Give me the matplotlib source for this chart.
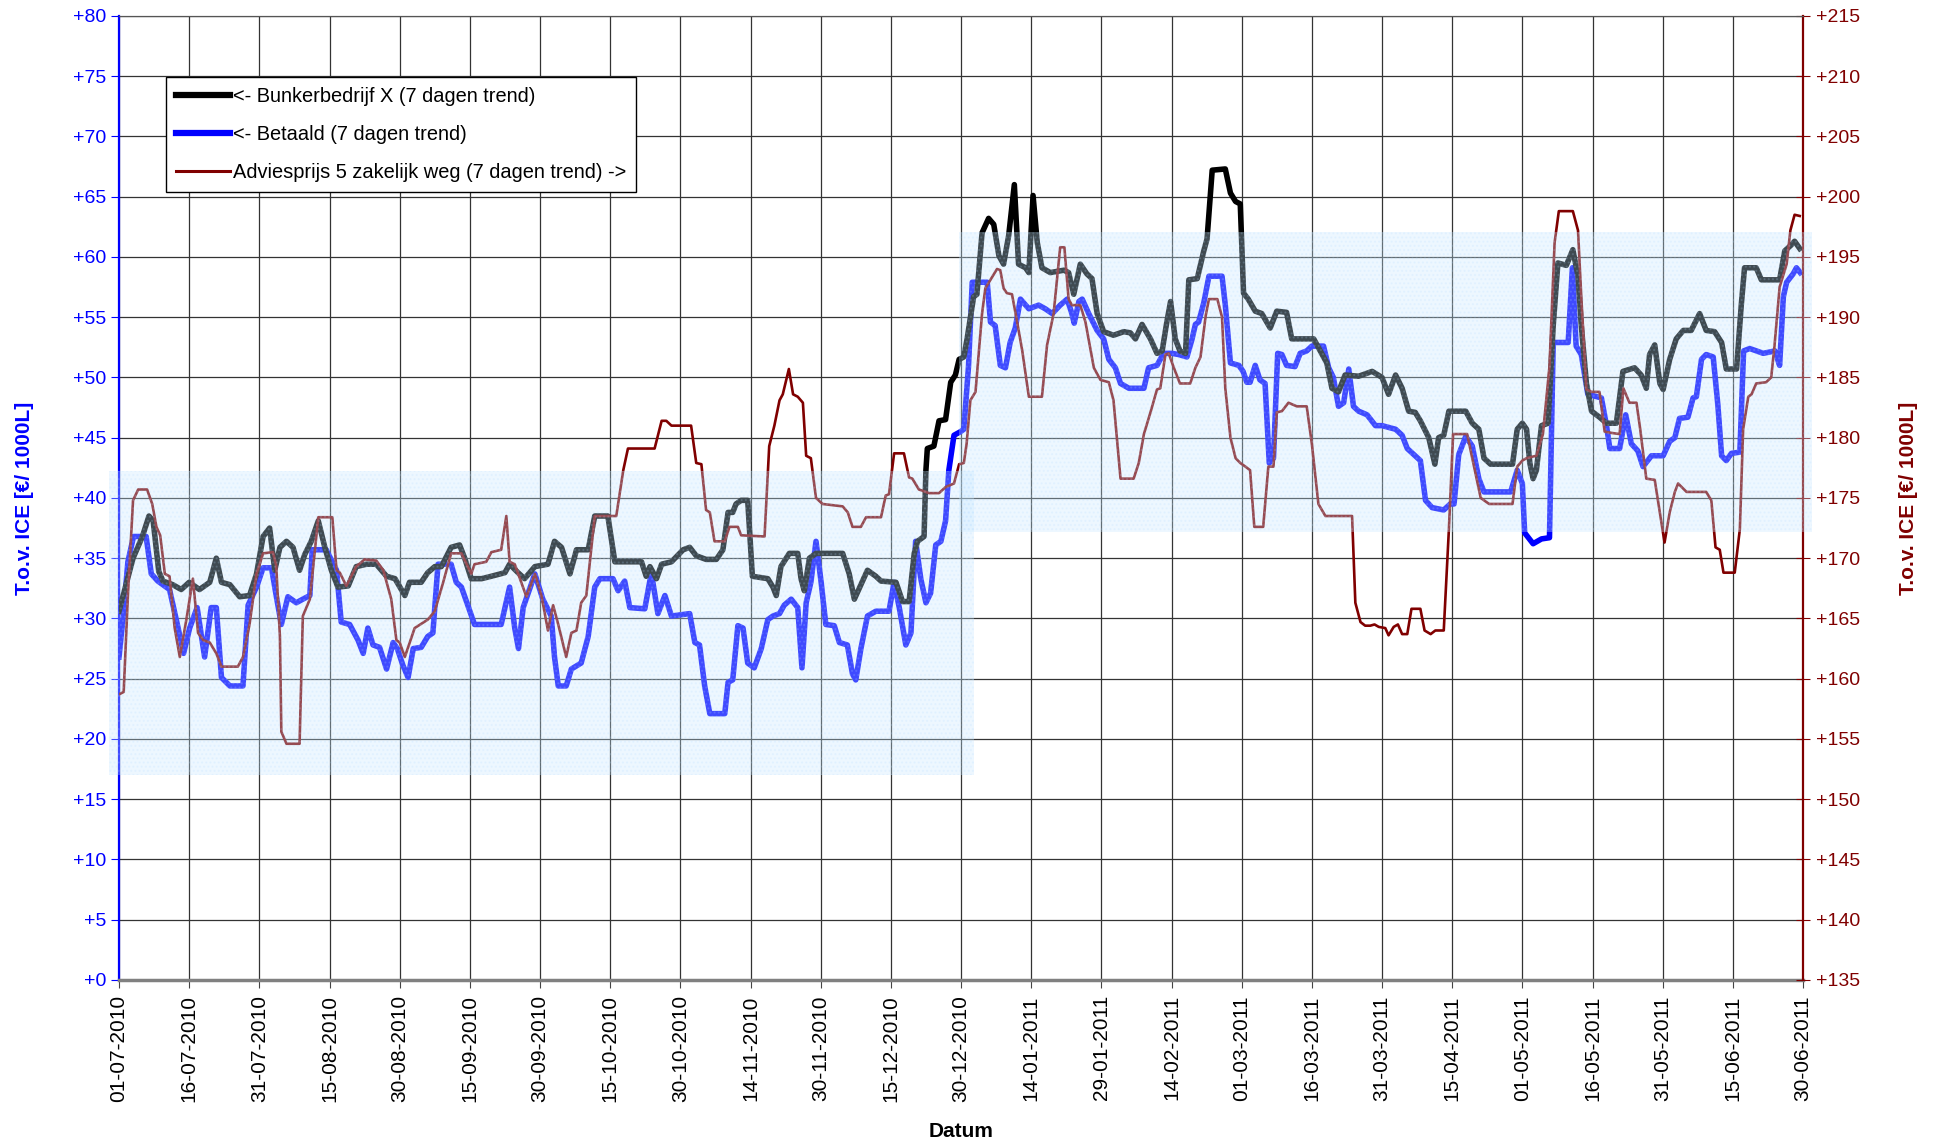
import numpy as np
import matplotlib
matplotlib.use('Agg')
import matplotlib.pyplot as plt
from matplotlib.patches import Rectangle
from matplotlib.lines import Line2D

plt.rcParams['font.family'] = ['Liberation Sans', 'DejaVu Sans']

###################################Data#########################################

# Category axis: one tick label every 15 rows
date_labels = ['01-07-2010', '16-07-2010', '31-07-2010', '15-08-2010', '30-08-2010',
               '15-09-2010', '30-09-2010', '15-10-2010', '30-10-2010', '14-11-2010',
               '30-11-2010', '15-12-2010', '30-12-2010', '14-01-2011', '29-01-2011',
               '14-02-2011', '01-03-2011', '16-03-2011', '31-03-2011', '15-04-2011',
               '01-05-2011', '16-05-2011', '31-05-2011', '15-06-2011', '30-06-2011']

# Bunkerbedrijf X (left axis) - row number / value
blk_x = [0, 3, 5, 6.4, 7.3, 8.5, 9.4, 11.5, 13.3, 15, 17.2, 19.4, 20.8, 21.9, 23.7, 25.8, 27.9,
         29.4, 30.8, 32.2, 33.3, 34.4, 35.8, 37.2, 38.6, 39.7, 41.1, 42.6, 44, 45.4, 46.8, 49,
         50.7, 52.9, 55, 57.2, 59, 61.1, 62.1, 64.6, 66, 67.5, 68.9, 71, 72.8, 73.9, 75.3, 77.5,
         79.6, 82.5, 83.5, 85.3, 86.7, 88.9, 91.7, 93.1, 94.6, 96.4, 97.8, 100.3, 101.7, 104.5,
         106, 111.7, 112.7, 113.5, 114.9, 116, 118.1, 120.6, 122, 123.4, 125.5, 127.7, 129.1,
         130.2, 131.2, 131.9, 133, 134.4, 135.4, 138.7, 139.8, 140.5, 141.5, 143.3, 145.1, 145.8,
         146.5, 147.6, 149, 154.7, 156.1, 157.2, 158.6, 160, 161.8, 162.9, 166.1, 167.5, 168.9,
         170, 170.7, 172.1, 172.5, 172.8, 174.2, 175.3, 176.7, 177.8, 178.8, 179.6, 180.6, 181.3,
         182.7, 183.4, 184.5, 185.9, 187, 188.1, 189.1, 190.2, 191.4, 192.3, 193.8, 194.5, 195.4,
         196.3, 197.3, 199.1, 202, 203, 204.1, 205.5, 206.9, 208, 209.1, 210.5, 212.6, 214.8,
         216.2, 217.3, 218.7, 220.5, 221.9, 223, 224, 224.8, 225.8, 226.8, 228, 228.7, 230.5,
         231.9, 232.6, 233.7, 236.5, 237.6, 238.7, 239.7, 240.4, 241.4, 242.9, 244.3, 246.1,
         247.5, 249.6, 250.7, 255.4, 256.8, 258.2, 259.3, 260.7, 262.1, 265, 267.9, 270, 271.4,
         272.9, 274.3, 275.7, 277.1, 278.2, 280, 281.3, 282.1, 283.2, 284.3, 287.9, 289.3, 290.7,
         291.8, 293.2, 297.9, 298.9, 300, 300.9, 301.6, 302.3, 303, 304.1, 305.5, 306.6, 307.6,
         309.4, 310.8, 311.9, 312.6, 313.7, 314.8, 316.5, 318, 320.1, 321.5, 324, 325.4, 326.5,
         327.2, 328.3, 329.4, 330.1, 331.5, 332.9, 334.4, 336.1, 337.9, 339.3, 341.1, 342.6,
         343.6, 345.8, 346.8, 347.5, 350, 351.1, 355, 356.1, 357.5, 358.2, 359.3]
blk_y = [30.6, 35, 36.8, 38.5, 38.1, 33.9, 33.1, 32.8, 32.4, 33, 32.4, 33, 35, 33, 32.8, 31.8, 31.9,
         33.7, 36.8, 37.5, 34.0, 35.9, 36.4, 35.9, 34.0, 35.3, 36.4, 38.1, 35.9, 34, 32.6, 32.7,
         34.3, 34.5, 34.5, 33.5, 33.3, 31.9, 33, 33, 33.8, 34.3, 34.3, 35.9, 36.1, 35.0, 33.3, 33.3,
         33.5, 33.8, 34.5, 33.8, 33.3, 34.3, 34.5, 36.4, 35.9, 33.7, 35.7, 35.7, 38.5, 38.5,
         34.7, 34.7, 33.5, 34.3, 33.3, 34.5, 34.7, 35.7, 35.9, 35.2, 34.9, 34.9, 35.7,
         38.8, 38.8, 39.5, 39.8, 39.8, 33.5, 33.3, 32.6, 31.9, 34.3, 35.4, 35.4, 33.3,
         32.3, 35.0, 35.4, 35.4, 33.7, 31.6, 32.8, 34.0, 33.5, 33.1, 33.0, 31.4, 31.4,
         35.4, 36.4, 36.8, 42.3, 44.1, 44.3, 46.4, 46.5, 49.6, 50.2, 51.5, 51.7, 53.2,
         56.7, 56.9, 62.0, 63.2, 62.7, 60.1, 59.4, 61.8, 66.0, 59.4, 59.1, 58.7, 65.1,
         61.2, 59.1, 58.7, 58.9, 58.7, 56.9, 59.4, 58.6, 58.2, 55.3, 53.8, 53.5, 53.8,
         53.7, 53.2, 54.4, 53.2, 52.0, 52.2, 54.6, 56.3, 53.2, 52.2, 52.0, 58.1, 58.2,
         60.5, 61.5, 67.2, 67.3, 65.3, 64.6, 64.4, 57.0, 56.5, 55.5, 55.3, 54.1,
         55.5, 55.4, 53.2, 53.2, 52.2, 51.2, 49.1, 48.8, 50.2, 50.1, 50.5, 50.0, 48.6,
         50.2, 49.1, 47.2, 47.1, 46.4, 45.0, 42.8, 45.0, 45.2, 47.2, 47.2, 46.2, 45.7,
         43.3, 42.8, 42.8, 45.7, 46.2, 45.7, 42.9, 41.6, 42.3, 46.0, 46.2, 54.3, 59.5,
         59.3, 60.6, 58.4, 54.3, 49.5, 47.2, 46.7, 46.2, 46.2, 50.5, 50.8, 50.2, 49.1,
         51.9, 52.7, 49.5, 49.0, 51.5, 53.2, 53.9, 53.9, 55.3, 53.9, 53.8, 52.9,
         50.7, 50.7, 56.0, 59.1, 59.1, 58.1, 58.1, 60.5, 61.0, 61.3, 60.7]

# Betaald (left axis)
blu_x = [0, 0.9, 1.9, 3.1, 5.8, 6.9, 8.3, 10.8, 12.3, 13.8, 15.1, 16.7, 18.3, 19.7, 20.8, 21.9,
         23.7, 26.5, 27.6, 29.4, 30.8, 32.6, 33.6, 34.7, 36.1, 37.9, 39.3, 40.8, 41.3, 44.3, 46.5,
         47.5, 49.3, 51.1, 52.2, 53.2, 54.3, 55.7, 57.2, 58.6, 59.5, 60.7, 61.8, 62.9, 64.6, 66,
         67.1, 68.2, 71, 72.1, 73.2, 76, 81.7, 83.5, 84.6, 85.4, 86.4, 88.9, 90.6, 92.4, 93.1,
         93.9, 95.6, 96.7, 98.8, 100.3, 101.7, 102.8, 105.6, 106.7, 108.1, 109.2, 112.4, 113.8,
         115.2, 116.7, 118.1, 122, 123.1, 124.1, 125.2, 126.3, 129.5, 130.2, 131.2, 132.3, 133.4,
         134.4, 135.8, 137.3, 138.7, 139.8, 141.2, 142.2, 143.7, 145.1, 146, 146.9, 147.9, 149,
         150.1, 151.1, 152.9, 154, 155.7, 156.8, 157.5, 158.6, 160, 161.8, 164.6, 165.7, 166.8,
         168.2, 169.3, 170.3, 171.4, 172.5, 173.5, 174.6, 175.7, 176.7, 177.4, 178.5, 179.9,
         180.6, 181.6, 182.4, 185.6, 186.3, 187.3, 188.4, 189.5, 190.5, 191.6, 192.7, 194.5,
         196.6, 198, 199.5, 201.2, 202.7, 203.7, 204.2, 205.2, 205.9, 207.3, 209.1, 210.5, 211.6,
         213, 214.1, 215.9, 219.1, 220.1, 221.9, 223.3, 225.1, 226.5, 228.3, 229.4, 230.1, 230.8,
         231.9, 233, 235.8, 236.5, 237.6, 239.4, 240.3, 241.1, 241.8, 242.9, 243.9, 245, 245.9,
         246.8, 247.7, 248.6, 249.6, 251.4, 252.5, 253.9, 255, 257.5, 258.6, 259.6, 260.7, 261.8,
         262.9, 263.9, 265, 266.8, 268.6, 270, 272.9, 274.3, 275.4, 276.8, 278.2, 279.3, 280.7,
         283.2, 284.6, 285.4, 286.4, 287.9, 289.3, 290.7, 291.8, 293.6, 297.5, 298.9, 300, 300.5,
         302.3, 304.1, 305.8, 306.6, 309.8, 310.7, 311.5, 312.6, 314, 316.9, 318, 318.7, 320.8,
         322.1, 323.3, 324.7, 325.8, 327.6, 330.1, 331.5, 332.6, 333.6, 335.4, 336.5, 337.2,
         338.3, 339.3, 340.8, 341.8, 342.6, 343.6, 344.7, 346.5, 347.3, 348.6, 351.5, 354, 355,
         355.8, 356.5, 357.9, 358.6, 359.4]
blu_y = [26.8, 30.2, 34.7, 36.8, 36.8, 33.7, 33.1, 32.4, 29.8, 27.1, 29.2, 30.9, 26.8, 30.9, 30.9, 25.1,
         24.4, 24.4, 31.1, 32.6, 34.2, 34.2, 31.9, 29.5, 31.8, 31.3, 31.6, 31.9, 35.7, 35.7, 34.0,
         29.7, 29.5, 28.2, 27.1, 29.2, 27.8, 27.6, 25.8, 28.0, 27.5, 26.1, 25.1, 27.5, 27.6, 28.5,
         28.8, 34.5, 34.5, 33.0, 32.6, 29.5, 29.5, 32.6, 29.2, 27.5, 30.9, 33.7, 31.6, 30.2, 26.8,
         24.4, 24.4, 25.8, 26.3, 28.5, 32.6, 33.3, 33.3, 32.3, 33.1, 30.9, 30.8, 33.8,
         30.4, 31.9, 30.2, 30.4, 28.0, 27.8, 24.4, 22.1, 22.1, 24.7, 24.9, 29.4, 29.2,
         26.3, 25.9, 27.5, 29.9, 30.2, 30.4, 31.1, 31.6, 30.9, 25.9, 31.3, 33.0, 36.4,
         33.0, 29.5, 29.4, 28.0, 27.8, 25.4, 24.9, 27.5, 30.2, 30.6, 30.6, 33.0, 30.9,
         27.8, 28.8, 36.4, 33.3, 31.3, 32.1, 36.1, 36.4, 38.1, 42.3, 45.2, 45.5,
         45.7, 50.9, 57.9, 57.9, 54.6, 54.3, 51.0, 50.8, 52.9, 54.1, 56.5, 55.7,
         56.0, 55.7, 55.3, 56.0, 56.5, 55.3, 54.5, 56.3, 56.5, 55.3, 53.9, 53.2, 51.5,
         50.8, 49.5, 49.1, 49.1, 50.8, 51.0, 52.0, 52.0, 51.9, 51.7, 53.2, 54.4, 54.6,
         56.2, 58.4, 58.4, 56.0, 51.2, 51.0, 50.5, 49.6, 49.6, 51.0, 49.8, 49.5, 42.9,
         43.3, 52.0, 51.9, 51.0, 50.9, 52.0, 52.2, 52.6, 52.6, 50.8, 50.0, 47.6, 47.9,
         50.7, 47.6, 47.2, 46.9, 46.0, 46.0, 45.7, 45.2, 44.1, 43.6, 43.1, 39.8, 39.2,
         39.0, 39.5, 39.5, 43.6, 45.1, 44.3, 41.6, 40.5, 40.5, 40.5, 42.3, 41.2, 37.1,
         36.2, 36.6, 36.7, 52.9, 52.9, 59.1, 52.6, 51.9, 48.6, 48.3, 46.0, 44.1, 44.1,
         46.9, 44.5, 43.9, 42.6, 43.5, 43.5, 44.7, 45.0, 46.6, 46.7, 48.3, 48.4,
         51.5, 51.9, 51.7, 47.7, 43.5, 43.1, 43.7, 43.8, 52.2, 52.4, 52.0, 52.2, 51.0,
         56.7, 57.9, 58.6, 59.1, 58.7]

# Adviesprijs 5 zakelijk weg (right axis)
red_x = [0, 1, 1.9, 3, 4.1, 6, 7.1, 8, 8.8, 9.8, 10.8, 11.9, 13, 14.4, 15.8, 16.9, 18, 19.4, 20.8,
         21.9, 25.4, 26.5, 27.9, 29.4, 30.8, 32.9, 33.6, 34.4, 34.7, 35.8, 38.6, 39.3, 40.8, 42.6,
         45.6, 46.5, 47.2, 48.6, 50.7, 52.5, 55, 56.5, 58.2, 59.3, 60, 61.1, 63.2, 66, 67.5, 69.3,
         71, 73.2, 75.3, 76, 78.5, 79.6, 81.7, 82.8, 83.5, 84.6, 87.1, 88.9, 90.3, 91.7, 92.8,
         93.9, 95.6, 96.7, 97.8, 98.8, 99.9, 101.7, 106.3, 107.8, 108.8, 114.5, 116, 117, 118.1,
         122.3, 123.4, 124.5, 125.5, 126.3, 127.3, 129.5, 130.5, 132.3, 133, 138, 139, 140.1,
         141.2, 141.9, 143.2, 144.1, 145.1, 146.2, 146.9, 147.9, 149, 150.4, 154.7, 155.8, 156.8,
         158.6, 159.7, 162.9, 163.9, 164.6, 165.7, 167.8, 168.9, 169.6, 171, 173.2, 175.3, 176.7,
         178.5, 179.6, 180.6, 181.2, 182, 183.1, 184.5, 185.2, 186.3, 187.7, 188.4, 189.1, 189.8,
         190.9, 192, 193.1, 194.5, 197.3, 198.4, 199.8, 201.2, 202.1, 203, 203.7, 205.5, 206.6,
         208.4, 209.8, 211.6, 212.6, 214.1, 216.9, 218, 219.1, 220.5, 221.9, 222.6, 223.7, 224.4,
         225.5, 226.8, 229, 230.1, 231.2, 232.3, 233, 234.8, 235.8, 236.5, 237.6, 238.7, 239.7,
         240.8, 241.8, 242.7, 244.6, 245.7, 246.8, 247.5, 248.6, 250, 251.8, 253.9, 255, 256.4,
         257.9, 263.6, 264.3, 265.4, 266.4, 267.5, 268.4, 269.3, 270.7, 271.4, 272.5, 273.4,
         274.3, 275.4, 276.3, 278.2, 279.1, 280.4, 281.4, 283.2, 284.3, 285.2, 288.2, 289.3,
         291.1, 292.9, 297.9, 298.9, 300, 300.9, 303, 304.4, 305.8, 306.9, 307.8, 310.8, 311.9,
         312.6, 313.7, 314.8, 316.5, 317.6, 319, 320.8, 321.6, 322.9, 324.4, 325.2, 326.5, 328.3,
         329.4, 330.4, 331.5, 332.6, 333.3, 335.1, 339.3, 340.4, 341.3, 342.2, 343, 345.4, 346.5,
         347.2, 348.3, 349, 350, 352.1, 353.2, 353.9, 355, 356.5, 357.3, 358.2, 359.3]
red_y = [158.7, 158.9, 166.9, 174.8, 175.7, 175.7, 174.5, 172.6, 171.9, 168.7, 168.5, 164.2, 161.8,
         164.9, 168.3, 163.8, 163.2, 163.0, 162.1, 161.0, 161.0, 161.8, 164.5, 168.7, 170.4, 170.5,
         169.4, 163.5, 155.6, 154.6, 154.6, 165.2, 166.6, 173.4, 173.4, 169.0, 168.8, 167.7, 169.3,
         169.9, 169.8, 169.0, 166.6, 163.2, 163.0, 161.8, 164.2, 164.9, 165.6, 168.0, 170.4, 170.4,
         168.7, 169.5, 169.7, 170.5, 170.7, 173.5, 169.7, 169.5, 166.8, 168.7, 166.9, 164.0, 166.1,
         164.5, 161.8, 163.8, 164.0, 166.3, 166.9, 173.5, 173.5, 177.3, 179.1, 179.1, 181.4, 181.4,
         181.0, 181.0, 177.9, 177.8, 174.0, 173.8, 171.4, 171.4, 172.6, 172.6, 171.9, 171.8, 179.3,
         181.0, 183.1, 183.6, 185.7, 183.6, 183.4, 182.9, 178.5, 178.3, 175.0, 174.5, 174.3, 173.8,
         172.6, 172.6, 173.4, 173.4, 175.2, 175.3, 178.7, 178.7, 176.7, 176.6, 175.7, 175.4, 175.4,
         175.9, 176.2, 177.8, 177.9, 179.5, 183.1, 183.8, 190.3, 192.4, 193.1, 194.0, 193.9, 192.4,
         192.0, 191.9, 189.6, 187.2, 183.4, 183.4, 187.7, 190.3, 195.8, 195.8, 191.5, 191.0, 191.0,
         189.6, 185.8, 184.8, 184.6, 183.1, 176.6, 176.6, 177.9, 180.3, 182.1, 184.0, 184.1, 186.9,
         187.0, 185.8, 184.5, 184.5, 185.8, 186.7, 190.1, 191.5, 191.5, 190.0, 184.1, 180.0, 178.3,
         177.9, 177.6, 177.3, 172.6, 172.6, 177.6, 177.6, 182.1, 182.2, 182.9, 182.6, 182.6, 179.5,
         174.5, 173.5, 173.5, 166.3, 164.7, 164.4, 164.4, 164.5, 164.3, 164.2, 163.6, 164.3, 164.5,
         163.7, 163.7, 165.8, 165.8, 164.0, 163.7, 164.0, 164.0, 172.4, 180.3, 180.3, 178.3,
         175.0, 174.5, 174.5, 177.6, 178.1, 178.3, 178.5, 180.3, 185.9, 196.2, 198.8, 198.8, 197.2,
         191.7, 184.0, 183.8, 183.8, 180.5, 180.4, 180.3, 184.1, 182.9, 182.9, 180.7, 176.6, 176.5,
         173.8, 171.3, 173.8, 175.5, 176.2, 175.5, 175.5, 174.8, 170.9, 170.7, 168.8, 168.8, 172.4,
         180.7, 183.4, 183.6, 184.5, 184.6, 185.0, 187.6, 192.5, 194.4, 197.2, 198.5, 198.4]

# Shaded bands (left axis units): x from, x to, y from, y to
band_x0 = [-2.1, 179.5]
band_x1 = [182.8, 361.9]
band_y0 = [17.0, 37.2]
band_y1 = [42.2, 62.1]

####################################Plotting####################################

fig = plt.figure(figsize=(19.43, 11.46), dpi=100)
ax = fig.add_axes([0.06125, 0.1449, 0.8667, 0.8412])
ax2 = ax.twinx()

ax.plot(blu_x, blu_y, color='#0000FF', lw=4.0, solid_joinstyle='round', zorder=3)
ax.plot(blk_x, blk_y, color='#000000', lw=4.0, solid_joinstyle='round', zorder=4)
ax2.plot(red_x, red_y, color='#800000', lw=1.9, zorder=3)

for i in range(len(band_x0)):
    r = Rectangle((band_x0[i], band_y0[i]), band_x1[i] - band_x0[i], band_y1[i] - band_y0[i],
                  transform=ax.transData, facecolor=(0.78, 0.91, 1.0, 0.32),
                  edgecolor='none', zorder=10, clip_on=False)
    ax2.add_patch(r)
    h = Rectangle((band_x0[i], band_y0[i]), band_x1[i] - band_x0[i], band_y1[i] - band_y0[i],
                  transform=ax.transData, facecolor='none', hatch='....',
                  edgecolor=(0.7, 0.86, 1.0, 0.18), lw=0, zorder=10, clip_on=False)
    ax2.add_patch(h)

# Axes
ax.set_xlim(0, 360)
ax.set_ylim(0, 80)
ax2.set_ylim(135, 215)

ax.set_xticks(np.arange(0, 361, 15))
ax.set_xticklabels(date_labels, rotation=90, fontsize=15)
ax.set_yticks(np.arange(0, 81, 5))
ax.set_yticklabels(['+%d' % v for v in range(0, 81, 5)], fontsize=14, color='#0000FF')
ax2.set_yticks(np.arange(135, 216, 5))
ax2.set_yticklabels(['+%d' % v for v in range(135, 216, 5)], fontsize=14, color='#800000')

ax.tick_params(axis='x', direction='out', length=6, color='#444444', pad=5)
ax.tick_params(axis='y', direction='out', length=6, color='#0000FF', pad=3)
ax2.tick_params(axis='y', direction='inout', length=10, color='#800000', pad=4)

ax.grid(True, color='#333333', lw=0.9)
ax.set_axisbelow(True)

ax.spines['left'].set_color('#0000FF')
ax.spines['left'].set_linewidth(1.6)
ax2.spines['left'].set_visible(False)
ax2.spines['right'].set_color('#800000')
ax2.spines['right'].set_linewidth(1.6)
ax.spines['right'].set_visible(False)
ax.spines['bottom'].set_color('#808080')
ax.spines['bottom'].set_linewidth(2.5)
ax2.spines['bottom'].set_visible(False)
ax.spines['top'].set_color('#555555')
ax2.spines['top'].set_color('#555555')

fig.text(0.4946, 0.013, 'Datum', fontsize=15, fontweight='bold', ha='center', va='center')
fig.text(0.0127, 0.5654, 'T.o.v. ICE [€/ 1000L]', fontsize=15, fontweight='bold',
         color='#0000FF', rotation=90, ha='center', va='center')
fig.text(0.982, 0.5654, 'T.o.v. ICE [€/ 1000L]', fontsize=15, fontweight='bold',
         color='#800000', rotation=90, ha='center', va='center')

# Legend
handles = [Line2D([], [], color='#000000', lw=4.5),
           Line2D([], [], color='#0000FF', lw=4.5),
           Line2D([], [], color='#800000', lw=2.2)]
labels = ['<- Bunkerbedrijf X (7 dagen trend)', '<- Betaald (7 dagen trend)',
          'Adviesprijs 5 zakelijk weg (7 dagen trend) ->']
leg = ax2.legend(handles, labels, loc='upper left', bbox_to_anchor=(0.028, 0.937),
                 borderaxespad=0, fontsize=14.4, frameon=True, fancybox=False,
                 edgecolor='#000000', framealpha=1, handlelength=2.7, handletextpad=0.12,
                 labelspacing=0.95, borderpad=0.5)
leg.get_frame().set_linewidth(1.0)
leg.set_zorder(20)

fig.savefig('out.png', dpi=100)
